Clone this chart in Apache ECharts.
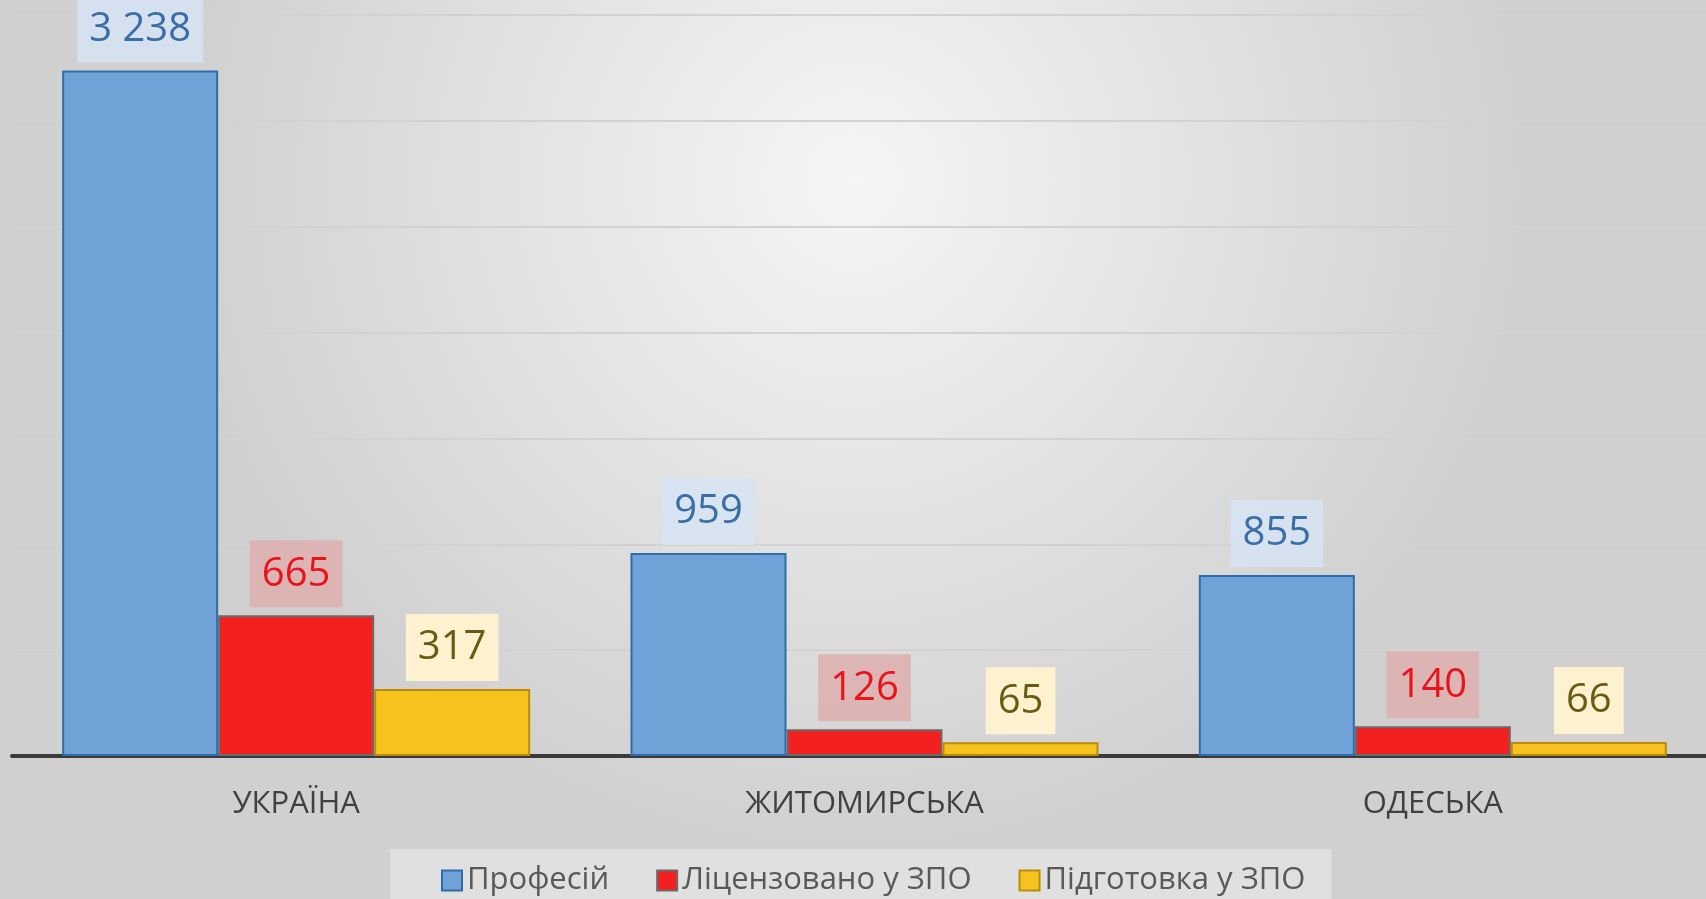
<!DOCTYPE html>
<html>
<head>
<meta charset="utf-8">
<script src="https://cdn.jsdelivr.net/npm/echarts@6/dist/echarts.min.js"></script>
<style>
  html, body { margin: 0; padding: 0; }
  #chart { width: 1706px; height: 899px; }
</style>
</head>
<body>
<div id="chart"></div>
<script>
// дані з діаграми
const regions = ['УКРАЇНА', 'ЖИТОМИРСЬКА', 'ОДЕСЬКА'];
const seriesNames = ['Професій', 'Ліцензовано у ЗПО', 'Підготовка у ЗПО'];
const professions = [3238, 959, 855];
const licensed = [665, 126, 140];
const training = [317, 65, 66];

const FONT = "'Open Sans', 'Noto Sans', sans-serif";

// пробіл як роздільник тисяч
function fmt(p) {
  return String(p.value).replace(/\B(?=(\d{3})+(?!\d))/g, ' ');
}

function makeLabel(color, bg) {
  return {
    show: true,
    position: 'top',
    distance: 8,
    formatter: fmt,
    fontFamily: FONT,
    fontSize: 40,
    color: color,
    backgroundColor: bg,
    padding: [14, 12, 13, 12]
  };
}

let chart = echarts.init(document.getElementById('chart'));

let option = {
  backgroundColor: {
    type: 'radial',
    x: 0.5, y: 0.2, r: 0.75,
    colorStops: [
      { offset: 0, color: '#f5f5f5' },
      { offset: 1, color: '#d0d0d0' }
    ]
  },
  animation: false,
  grid: {
    left: 12,
    right: -11,
    top: 15,
    bottom: 143,
    containLabel: false,
    outerBoundsMode: 'none'
  },
  legend: {
    data: seriesNames,
    left: 390,
    top: 849,
    padding: [16, 26, 14, 51],
    backgroundColor: 'rgba(255,255,255,0.35)',
    itemWidth: 20,
    itemHeight: 20,
    itemGap: 47,
    icon: 'rect',
    textStyle: {
      fontFamily: FONT,
      fontSize: 31,
      color: '#595959'
    }
  },
  xAxis: {
    type: 'category',
    data: regions,
    axisLine: { lineStyle: { color: '#3a3a3a', width: 4 } },
    axisTick: { show: false },
    axisLabel: {
      margin: 33,
      fontFamily: FONT,
      fontSize: 31,
      color: '#404040'
    }
  },
  yAxis: {
    type: 'value',
    min: 0,
    max: 3500,
    interval: 500,
    axisLabel: { show: false },
    axisLine: { show: false },
    axisTick: { show: false },
    splitLine: { lineStyle: { color: '#d2d2d2', width: 2 } }
  },
  series: [
    {
      name: seriesNames[0],
      type: 'bar',
      data: professions,
      barWidth: 156,
      barGap: '0%',
      itemStyle: { color: '#6fa3d7', borderColor: '#2e6cab', borderWidth: 2 },
      label: makeLabel('#3a6ea8', 'rgba(214,228,244,0.85)')
    },
    {
      name: seriesNames[1],
      type: 'bar',
      data: licensed,
      barWidth: 156,
      barGap: '0%',
      itemStyle: { color: '#f41f1f', borderColor: '#6a6a6a', borderWidth: 2 },
      label: makeLabel('#e8141c', 'rgba(222,176,176,0.9)')
    },
    {
      name: seriesNames[2],
      type: 'bar',
      data: training,
      barWidth: 156,
      barGap: '0%',
      itemStyle: { color: '#f7c21e', borderColor: '#b98c0c', borderWidth: 2 },
      label: makeLabel('#6b5a12', 'rgba(255,243,208,0.95)')
    }
  ]
};

chart.setOption(option);
</script>
</body>
</html>
